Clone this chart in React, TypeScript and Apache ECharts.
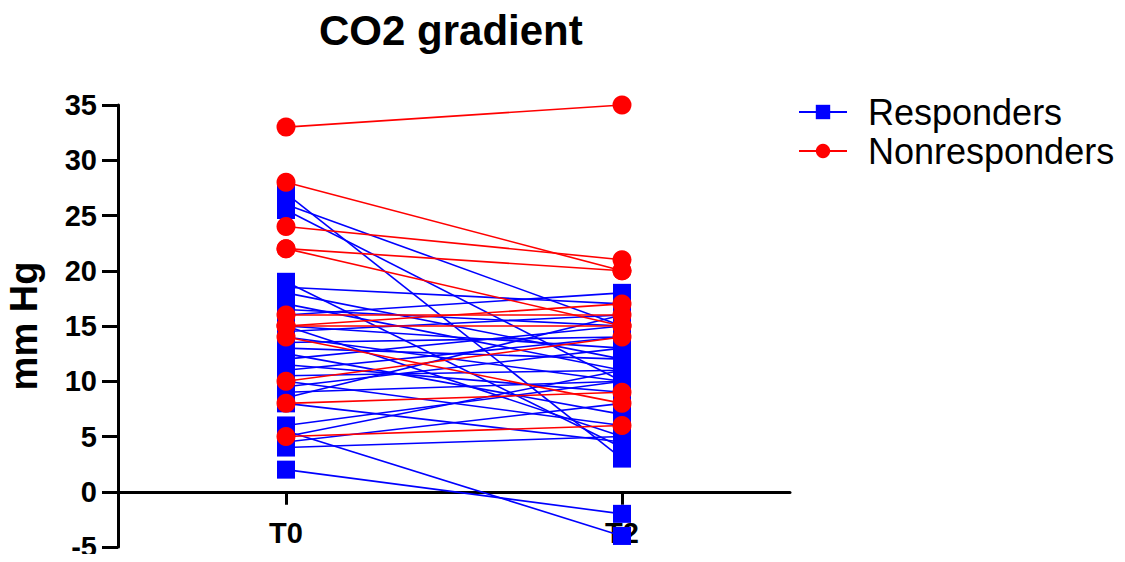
import React, { useEffect, useRef } from "react";
import * as echarts from "echarts";

const categories = ["T0", "T2"];
const yTicks = [-5, 0, 5, 10, 15, 20, 25, 30, 35];

// Responders: value at T0 and at T2 (paired by index)
const respT0 = [27, 26, 25.5, 19, 18.5, 18, 17, 16.5, 16, 15, 15, 14.5, 14, 13.5, 13, 12.5, 12, 11.5, 11, 10.5, 10, 9.5, 9, 8.5, 8, 6, 5.5, 5, 4.5, 4, 2];
const respT2 = [3, 15, 10, 4, 17, 12, 11, 15, 18, 5, 13, 16, 10, 14, 12, 7, 15, 9, 14, 11, 6, 13, 10, 16, 4.5, 10, -4, 11, 8, 5, -2];

// Nonresponders: value at T0 and at T2 (paired by index)
const nonT0 = [33, 28, 24, 22, 22, 16, 15, 15, 14, 10, 8, 5];
const nonT2 = [35, 20, 21, 20, 15, 16, 17, 15, 8, 14, 9, 6];

const BLUE = "#0000ff";
const RED = "#ff0000";
const FONT = "Liberation Sans, Arial, sans-serif";

export default function App() {
  const ref = useRef<HTMLDivElement>(null);
  useEffect(() => {
    if (!ref.current) return;
    const chart = echarts.init(ref.current, null, { renderer: "svg" });
    const respSeries = respT0.map((v, i) => ({
      type: "line",
      name: "Responders",
      data: [v, respT2[i]],
      symbol: "rect",
      symbolSize: 18,
      itemStyle: { color: BLUE },
      lineStyle: { color: BLUE, width: 1.6 },
      z: 2,
    }));
    const nonSeries = nonT0.map((v, i) => ({
      type: "line",
      name: "Nonresponders",
      data: [v, nonT2[i]],
      symbol: "circle",
      symbolSize: 19,
      itemStyle: { color: RED },
      lineStyle: { color: RED, width: 1.6 },
      z: 3,
    }));
    const gridTop = 105;
    const gridBottom = 15;
    const plotH = 562 - gridTop - gridBottom;
    const zeroOffset = -(plotH * (0 - yTicks[0])) / (yTicks[yTicks.length - 1] - yTicks[0]);
    chart.setOption({
      animation: false,
      backgroundColor: "#ffffff",
      title: {
        text: "CO2 gradient",
        left: 314,
        top: 4,
        textStyle: { fontFamily: FONT, fontWeight: "bold", fontSize: 42, color: "#000" },
      },
      legend: {
        orient: "vertical",
        left: 793,
        top: 89,
        itemWidth: 48,
        itemHeight: 18,
        itemGap: 3,
        data: ["Responders", "Nonresponders"],
        textStyle: { fontFamily: FONT, fontSize: 36, color: "#000", padding: [0, 0, 0, 16] },
      },
      grid: { left: 118, right: 335, top: gridTop, bottom: gridBottom, containLabel: false, outerBoundsMode: "none" },
      xAxis: {
        type: "category",
        data: categories,
        boundaryGap: true,
        position: "bottom",
        offset: zeroOffset,
        axisLine: { onZero: false, lineStyle: { color: "#000", width: 3 } },
        axisTick: { show: true, interval: 0, alignWithLabel: true, length: 13, lineStyle: { color: "#000", width: 3 } },
        axisLabel: { interval: 0, margin: 27, fontFamily: FONT, fontWeight: "bold", fontSize: 29, color: "#000" },
        splitLine: { show: false },
        z: 1,
      },
      yAxis: {
        type: "value",
        min: yTicks[0],
        max: yTicks[yTicks.length - 1],
        interval: 5,
        name: "mm Hg",
        nameLocation: "middle",
        nameGap: 75,
        nameTextStyle: { fontFamily: FONT, fontWeight: "bold", fontSize: 38, color: "#000" },
        axisLine: { show: true, lineStyle: { color: "#000", width: 3 } },
        axisTick: { show: true, length: 16, lineStyle: { color: "#000", width: 3 } },
        axisLabel: { margin: 21, fontFamily: FONT, fontWeight: "bold", fontSize: 29, lineHeight: 29, color: "#000" },
        splitLine: { show: false },
      },
      series: [...respSeries, ...nonSeries],
    });
    return () => chart.dispose();
  }, []);
  return <div ref={ref} style={{ width: 1125, height: 562, margin: -8 }} />;
}
